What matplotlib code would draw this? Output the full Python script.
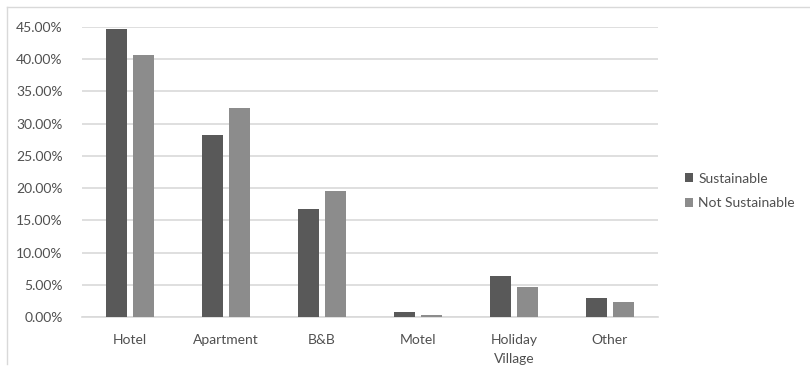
import numpy as np
import matplotlib.pyplot as plt
from matplotlib.lines import Line2D
from matplotlib.ticker import PercentFormatter

categories = ["Hotel", "Apartment", "B&B", "Motel", "Holiday\nVillage", "Other"]
sustainable = [44.7, 28.3, 16.8, 0.8, 6.3, 2.95]
not_sustainable = [40.6, 32.5, 19.6, 0.3, 4.6, 2.3]
yticks_vals = np.arange(0, 46, 5)

W, H = 810, 374
fig = plt.figure(figsize=(W / 100, H / 100), dpi=100)
plt.rcParams['font.family'] = ['Lato', 'DejaVu Sans']

# plot area in pixels: left 82, right 658, top 27, bottom 317
ax = fig.add_axes([82 / W, 1 - 317 / H, (658 - 82) / W, (317 - 27) / H])

x = np.arange(len(categories))
bw = 0.22
off = 0.14
ax.bar(x - off, sustainable, bw, color='#595959', label='Sustainable', zorder=3)
ax.bar(x + off, not_sustainable, bw, color='#8c8c8c', label='Not Sustainable', zorder=3)

ax.set_xlim(-0.5, len(categories) - 0.5)
ax.set_ylim(0, 45)
ax.set_yticks(yticks_vals)
ax.yaxis.set_major_formatter(PercentFormatter(decimals=2))
ax.set_xticks(x)
ax.set_xticklabels(categories, linespacing=1.75)
ax.tick_params(length=0, labelsize=10, colors='#505050')
ax.tick_params(axis='x', pad=12)
ax.tick_params(axis='y', pad=14)

ax.grid(axis='y', color='#d9d9d9', linewidth=1.2, zorder=0)
for s in ['top', 'right', 'left']:
    ax.spines[s].set_visible(False)
ax.spines['bottom'].set_color('#d9d9d9')
ax.spines['bottom'].set_linewidth(1.2)

fig.legend(loc='center left', bbox_to_anchor=(672 / W, 1 - 191 / H), frameon=False,
           fontsize=10, labelcolor='#505050', handlelength=0.6, handleheight=0.6,
           handletextpad=0.4, labelspacing=0.9)

# outer chart frame
fig.add_artist(Line2D([7 / W, 7 / W], [1 - 7 / H, 1 - 364 / H], color='#d9d9d9', lw=1))
fig.add_artist(Line2D([7 / W, 1], [1 - 7 / H, 1 - 7 / H], color='#d9d9d9', lw=1))

plt.savefig("out.png", dpi=100)
